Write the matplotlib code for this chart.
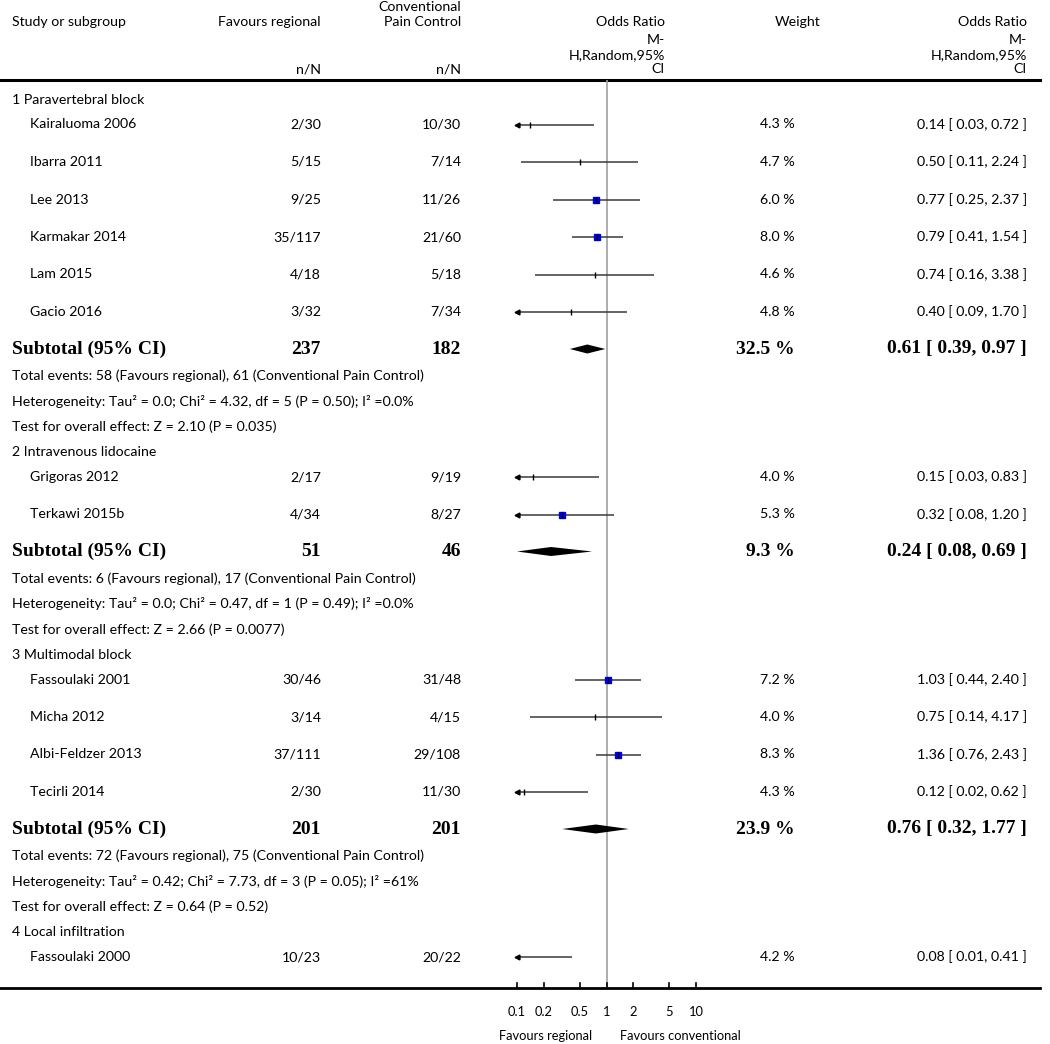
import numpy as np
import matplotlib.pyplot as plt
from matplotlib.patches import Polygon

# forest plot: regional anaesthesia vs conventional pain control

group_names = ['1 Paravertebral block', '2 Intravenous lidocaine',
               '3 Multimodal block', '4 Local infiltration']
study_names = ['Kairaluoma 2006', 'Ibarra 2011', 'Lee 2013', 'Karmakar 2014', 'Lam 2015', 'Gacio 2016',
               'Grigoras 2012', 'Terkawi 2015b',
               'Fassoulaki 2001', 'Micha 2012', 'Albi-Feldzer 2013', 'Tecirli 2014',
               'Fassoulaki 2000']
study_group = [0, 0, 0, 0, 0, 0, 1, 1, 2, 2, 2, 2, 3]
ev_reg = [2, 5, 9, 35, 4, 3, 2, 4, 30, 3, 37, 2, 10]
n_reg = [30, 15, 25, 117, 18, 32, 17, 34, 46, 14, 111, 30, 23]
ev_con = [10, 7, 11, 21, 5, 7, 9, 8, 31, 4, 29, 11, 20]
n_con = [30, 14, 26, 60, 18, 34, 19, 27, 48, 15, 108, 30, 22]
weight = [4.3, 4.7, 6.0, 8.0, 4.6, 4.8, 4.0, 5.3, 7.2, 4.0, 8.3, 4.3, 4.2]
or_est = [0.14, 0.50, 0.77, 0.79, 0.74, 0.40, 0.15, 0.32, 1.03, 0.75, 1.36, 0.12, 0.08]
or_lo = [0.03, 0.11, 0.25, 0.41, 0.16, 0.09, 0.03, 0.08, 0.44, 0.14, 0.76, 0.02, 0.01]
or_hi = [0.72, 2.24, 2.37, 1.54, 3.38, 1.70, 0.83, 1.20, 2.40, 4.17, 2.43, 0.62, 0.41]

# subgroup totals (groups 1-3; group 4 has a single study)
sub_weight = [32.5, 9.3, 23.9]
sub_or = [0.61, 0.24, 0.76]
sub_lo = [0.39, 0.08, 0.32]
sub_hi = [0.97, 0.69, 1.77]
tau2 = ['0.0', '0.0', '0.42']
chi2 = ['4.32', '0.47', '7.73']
het_df = [5, 1, 3]
het_p = ['0.50', '0.49', '0.05']
i2 = ['0.0%', '0.0%', '61%']
z_val = ['2.10', '2.66', '0.64']
z_p = ['0.035', '0.0077', '0.52']

axis_ticks = [0.1, 0.2, 0.5, 1, 2, 5, 10]
axis_labels = ['0.1', '0.2', '0.5', '1', '2', '5', '10']

plt.rcParams['font.family'] = ['Lato', 'DejaVu Sans']
FS = 10.2
BOLD = dict(family='Liberation Serif', fontweight='bold', fontsize=14)

W, H = 1050, 1044
fig = plt.figure(figsize=(W / 100, H / 100), dpi=100)
ax = fig.add_axes([0, 0, 1, 1])
ax.set_xlim(0, W)
ax.set_ylim(H, 0)
ax.axis('off')

top_y, bot_y = 80, 988
x_lo, x_hi = 517, 696
fx = fig.add_axes([x_lo / W, 1 - bot_y / H, (x_hi - x_lo) / W, (bot_y - top_y) / H])
fx.set_xscale('log')
fx.set_xlim(0.1, 10)
fx.set_ylim(bot_y, top_y)
fx.axis('off')
fx.axvline(1, color='#a0a0a0', lw=1.2, zorder=1)

# column positions
c_name, c_study = 12, 30
c_reg, c_con, c_w, c_or = 321, 461, 795, 1027

# header
ax.text(c_name, 22, 'Study or subgroup', fontsize=FS, va='center')
ax.text(c_reg, 22, 'Favours regional', fontsize=FS, va='center', ha='right')
ax.text(c_con, 7, 'Conventional', fontsize=FS, va='center', ha='right')
ax.text(c_con, 22, 'Pain Control', fontsize=FS, va='center', ha='right')
ax.text(c_reg, 69, 'n/N', fontsize=FS, va='center', ha='right')
ax.text(c_con, 69, 'n/N', fontsize=FS, va='center', ha='right')
for xr in [665, c_or]:
    for yy, s in zip([22, 40, 55, 69], ['Odds Ratio', 'M-', 'H,Random,95%', 'CI']):
        ax.text(xr, yy, s, fontsize=FS, va='center', ha='right')
ax.text(821, 22, 'Weight', fontsize=FS, va='center', ha='right')
ax.plot([0, 1040], [top_y, top_y], color='black', lw=2.2)
ax.plot([0, 1040], [bot_y, bot_y], color='black', lw=2.0)

# build row list
rows = []
for g, gname in enumerate(group_names):
    rows.append(('head', g))
    for i in range(len(study_names)):
        if study_group[i] == g:
            rows.append(('study', i))
    if g < len(sub_or):
        rows.append(('sub', g))
        rows.append(('events', g))
        rows.append(('het', g))
        rows.append(('test', g))

gap = {('head', 'study'): 24.5, ('study', 'study'): 37.5, ('study', 'sub'): 37,
       ('sub', 'events'): 27, ('events', 'het'): 25.5, ('het', 'test'): 25.5,
       ('test', 'head'): 25.5}

y = 100
prev = None
for kind, k in rows:
    if prev is not None:
        y += gap[(prev, kind)]
    prev = kind
    if kind == 'head':
        ax.text(c_name, y, group_names[k], fontsize=FS, va='center')
    elif kind == 'study':
        ax.text(c_study, y, study_names[k], fontsize=FS, va='center')
        ax.text(c_reg, y, f'{ev_reg[k]}/{n_reg[k]}', fontsize=FS, va='center', ha='right')
        ax.text(c_con, y, f'{ev_con[k]}/{n_con[k]}', fontsize=FS, va='center', ha='right')
        ax.text(c_w, y, f'{weight[k]:.1f} %', fontsize=FS, va='center', ha='right')
        ax.text(c_or, y, f'{or_est[k]:.2f} [ {or_lo[k]:.2f}, {or_hi[k]:.2f} ]',
                fontsize=FS, va='center', ha='right')
        lo = max(or_lo[k], 0.1)
        hi = min(or_hi[k], 10)
        fx.plot([lo, hi], [y, y], color='#3a3a3a', lw=1.1, solid_capstyle='butt', zorder=2)
        if or_lo[k] < 0.1:
            fx.plot([0.1], [y], marker='<', ms=3.5, color='black', clip_on=False, zorder=3)
        if 0.1 <= or_est[k] <= 10:
            fx.plot([or_est[k]], [y], marker='|', ms=5, mew=1.0, color='black', zorder=4)
            if weight[k] >= 5:
                fx.plot([or_est[k]], [y], marker='s', ms=0.3 * weight[k] + 2.3,
                        color='#0000dd', mec='#0000dd', zorder=3)
    elif kind == 'sub':
        ax.text(c_name, y, 'Subtotal (95% CI)', va='center', **BOLD)
        g_idx = [i for i in range(len(study_names)) if study_group[i] == k]
        ax.text(c_reg, y, str(sum(n_reg[i] for i in g_idx)), va='center', ha='right', **BOLD)
        ax.text(c_con, y, str(sum(n_con[i] for i in g_idx)), va='center', ha='right', **BOLD)
        ax.text(c_w, y, f'{sub_weight[k]:.1f} %', va='center', ha='right', **BOLD)
        ax.text(c_or, y, f'{sub_or[k]:.2f} [ {sub_lo[k]:.2f}, {sub_hi[k]:.2f} ]',
                va='center', ha='right', **BOLD)
        lo = max(sub_lo[k], 0.1)
        hi = min(sub_hi[k], 10)
        dh = 4.5
        fx.add_patch(Polygon([(lo, y), (sub_or[k], y - dh), (hi, y), (sub_or[k], y + dh)],
                             closed=True, color='black', lw=0, zorder=3))
    elif kind == 'events':
        g_idx = [i for i in range(len(study_names)) if study_group[i] == k]
        er = sum(ev_reg[i] for i in g_idx)
        ec = sum(ev_con[i] for i in g_idx)
        ax.text(c_name, y, f'Total events: {er} (Favours regional), {ec} (Conventional Pain Control)',
                fontsize=FS, va='center')
    elif kind == 'het':
        ax.text(c_name, y, f'Heterogeneity: Tau\u00b2 = {tau2[k]}; Chi\u00b2 = {chi2[k]}, '
                           f'df = {het_df[k]} (P = {het_p[k]}); I\u00b2 ={i2[k]}',
                fontsize=FS, va='center')
    elif kind == 'test':
        ax.text(c_name, y, f'Test for overall effect: Z = {z_val[k]} (P = {z_p[k]})',
                fontsize=FS, va='center')

# bottom axis ticks and labels
for t, lab in zip(axis_ticks, axis_labels):
    fx.plot([t, t], [bot_y, bot_y - 5], color='black', lw=1.2, clip_on=False)
    fx.text(t, 1012, lab, fontsize=9.3, ha='center', va='center', clip_on=False)
ax.text(592, 1036, 'Favours regional', fontsize=9.3, ha='right', va='center')
ax.text(620, 1036, 'Favours conventional', fontsize=9.3, ha='left', va='center')

fig.savefig('out.png', dpi=100)
